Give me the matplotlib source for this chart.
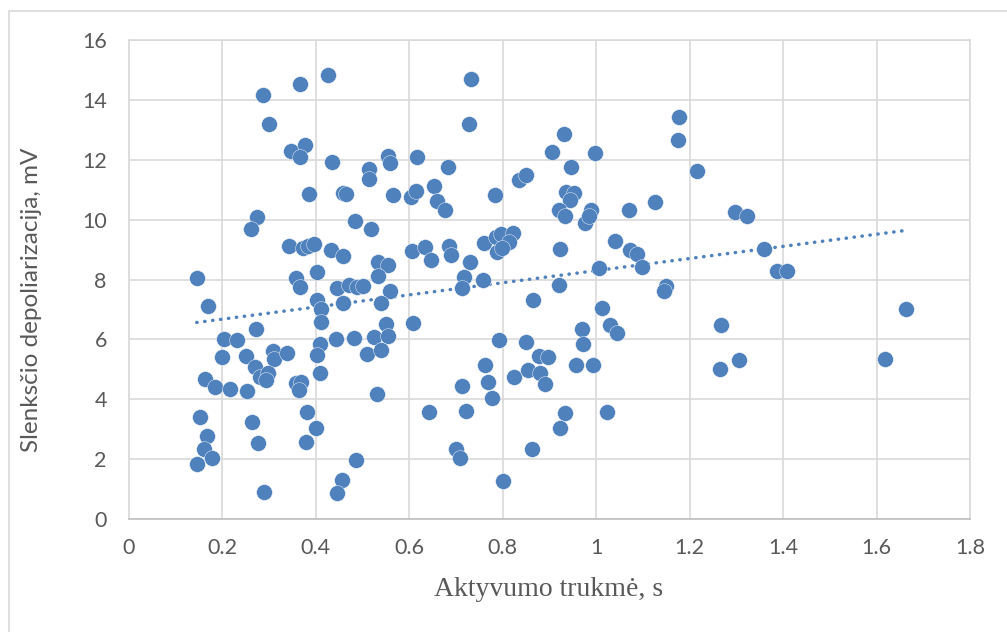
import numpy as np
import matplotlib.pyplot as plt
from matplotlib.patches import Rectangle

# Aktyvumo trukmė (s) ir slenksčio depoliarizacija (mV)
trukme = [
    0.426, 0.365, 0.287, 0.300, 0.347, 0.376, 0.366, 0.435, 0.513, 0.513,
    0.554, 0.558, 0.617, 0.386, 0.457, 0.464, 0.566, 0.604, 0.615, 0.273,
    0.261, 0.342, 0.372, 0.384, 0.396, 0.484, 0.518, 0.432, 0.457, 0.533,
    0.554, 0.605, 0.146, 0.357, 0.403, 0.533, 0.366, 0.445, 0.471, 0.488,
    0.501, 0.559, 0.169, 0.402, 0.412, 0.410, 0.459, 0.539, 0.272, 0.549,
    0.608, 0.203, 0.231, 0.408, 0.403, 0.443, 0.481, 0.525, 0.555, 0.510,
    0.540, 0.200, 0.251, 0.308, 0.310, 0.338, 0.270, 0.280, 0.298, 0.294,
    0.163, 0.185, 0.216, 0.253, 0.358, 0.369, 0.364, 0.408, 0.531, 0.151,
    0.264, 0.382, 0.166, 0.161, 0.177, 0.145, 0.276, 0.401, 0.379, 0.486,
    0.456, 0.445, 0.288, 0.731, 0.727, 0.930, 0.905, 0.997, 1.178, 1.175,
    1.215, 0.682, 0.653, 0.660, 0.677, 0.783, 0.835, 0.850, 0.946, 0.936,
    0.952, 0.943, 0.921, 0.934, 0.977, 0.988, 0.985, 1.070, 1.125, 0.634,
    0.647, 0.684, 0.690, 0.760, 0.730, 0.785, 0.796, 0.821, 0.814, 0.787,
    0.798, 0.922, 1.041, 1.072, 1.087, 1.097, 1.006, 0.717, 0.758, 0.921,
    0.712, 0.865, 1.149, 1.144, 1.012, 0.969, 0.971, 1.029, 1.044, 0.792,
    0.849, 0.878, 0.897, 0.763, 0.768, 0.776, 0.823, 0.853, 0.879, 0.890,
    0.956, 0.993, 0.713, 0.642, 0.722, 0.934, 0.923, 1.022, 0.700, 0.708,
    0.862, 0.801, 1.298, 1.323, 1.360, 1.386, 1.409, 1.268, 1.305, 1.265,
    1.662, 1.618,
]
depoliarizacija = [
    14.83, 14.52, 14.16, 13.20, 12.28, 12.49, 12.09, 11.92, 11.68, 11.37,
    12.12, 11.90, 12.10, 10.84, 10.88, 10.86, 10.83, 10.77, 10.95, 10.09,
    9.69, 9.12, 9.04, 9.12, 9.20, 9.95, 9.69, 8.98, 8.77, 8.59,
    8.47, 8.94, 8.06, 8.06, 8.24, 8.12, 7.76, 7.70, 7.82, 7.74,
    7.78, 7.63, 7.11, 7.31, 7.00, 6.59, 7.20, 7.20, 6.36, 6.51,
    6.56, 6.00, 5.98, 5.85, 5.49, 6.00, 6.03, 6.09, 6.11, 5.50,
    5.64, 5.41, 5.44, 5.62, 5.35, 5.55, 5.08, 4.75, 4.89, 4.64,
    4.69, 4.41, 4.33, 4.26, 4.53, 4.57, 4.32, 4.89, 4.18, 3.41,
    3.24, 3.58, 2.78, 2.33, 2.05, 1.83, 2.54, 3.03, 2.58, 1.96,
    1.29, 0.86, 0.89, 14.71, 13.21, 12.86, 12.27, 12.22, 13.42, 12.65,
    11.61, 11.75, 11.13, 10.63, 10.32, 10.81, 11.31, 11.48, 11.75, 10.91,
    10.88, 10.65, 10.31, 10.12, 9.88, 10.32, 10.13, 10.31, 10.58, 9.10,
    8.65, 9.12, 8.81, 9.23, 8.57, 9.43, 9.52, 9.54, 9.26, 8.93,
    9.04, 9.02, 9.30, 8.98, 8.84, 8.41, 8.37, 8.09, 7.98, 7.83,
    7.72, 7.31, 7.78, 7.63, 7.06, 6.35, 5.86, 6.48, 6.22, 5.98,
    5.90, 5.44, 5.42, 5.14, 4.59, 4.03, 4.75, 4.98, 4.89, 4.52,
    5.15, 5.15, 4.44, 3.56, 3.61, 3.53, 3.03, 3.58, 2.33, 2.03,
    2.34, 1.26, 10.26, 10.13, 9.03, 8.28, 8.29, 6.49, 5.32, 5.02,
    7.00, 5.34,
]

x = np.array(trukme)
y = np.array(depoliarizacija)

blue = '#4F81BD'
gray_txt = '#595959'
grid_c = '#D9D9D9'

fig = plt.figure(figsize=(10.07, 6.32), dpi=100)
ax = fig.add_axes([129 / 1007, 1 - 519 / 632, 841 / 1007, 479 / 632])

# chart frame
fig.patches.append(Rectangle((9 / 1007, -0.1), 1.2, 1.1 - 11 / 632,
                             transform=fig.transFigure, fill=False,
                             edgecolor=grid_c, linewidth=1.2))

ax.scatter(x, y, s=130, color=blue, edgecolors='white', linewidths=0.3, zorder=3)

# linear trendline
k, b = np.polyfit(x, y, 1)
xt = np.array([x.min(), x.max()])
ax.plot(xt, k * xt + b, color=blue, linewidth=2.5, linestyle=(0, (0.1, 2.2)),
        dash_capstyle='round', zorder=2)

ax.set_xlim(0, 1.8)
ax.set_ylim(0, 16)
ax.set_xticks(np.arange(0, 1.81, 0.2))
ax.set_yticks(np.arange(0, 17, 2))
ax.set_xticklabels(['0', '0.2', '0.4', '0.6', '0.8', '1', '1.2', '1.4', '1.6', '1.8'])
ax.grid(True, color=grid_c, linewidth=1.2)
ax.set_axisbelow(True)
for sp in ax.spines.values():
    sp.set_color(grid_c)
    sp.set_linewidth(1.2)
ax.spines['bottom'].set_color('#BFBFBF')
ax.tick_params(length=0, labelsize=15.5, labelcolor=gray_txt)
ax.tick_params(axis='x', pad=14)
ax.tick_params(axis='y', pad=16)
for lab in ax.get_xticklabels() + ax.get_yticklabels():
    lab.set_fontfamily('Lato')

fig.text(32 / 1007, 1 - 300 / 632, 'Slenksčio depoliarizacija, mV', rotation=90,
         ha='center', va='center', fontsize=17.5, color=gray_txt, family='Lato')
fig.text(549 / 1007, 1 - 589 / 632, 'Aktyvumo trukmė, s', ha='center', va='center',
         fontsize=20, color=gray_txt, family='Liberation Serif')

fig.savefig('out.png', dpi=100)
